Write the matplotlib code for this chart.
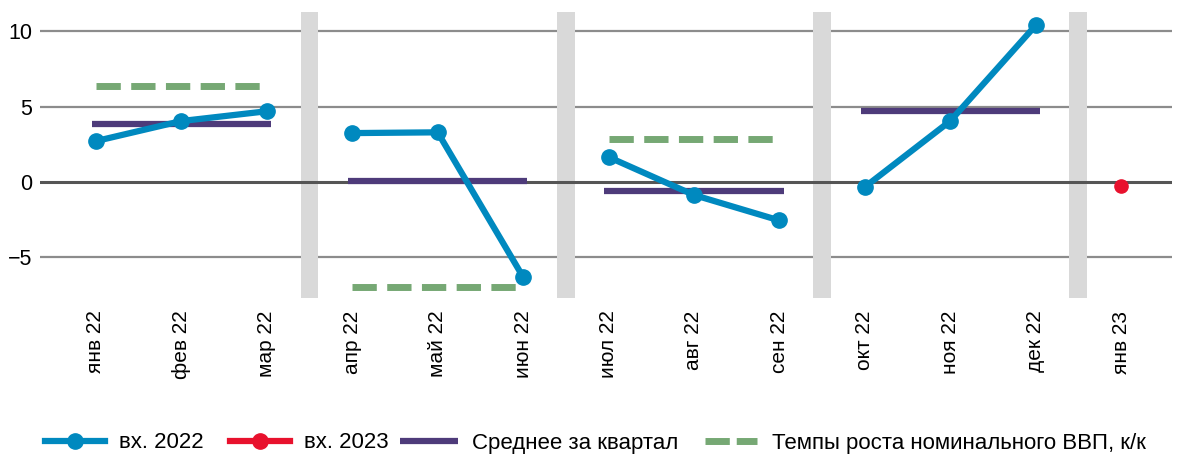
import matplotlib
matplotlib.use('Agg')
import matplotlib.pyplot as plt
from matplotlib.lines import Line2D
import numpy as np

plt.rcParams['font.family'] = ['Liberation Sans', 'DejaVu Sans']

months = ['янв 22', 'фев 22', 'мар 22', 'апр 22', 'май 22', 'июн 22',
          'июл 22', 'авг 22', 'сен 22', 'окт 22', 'ноя 22', 'дек 22', 'янв 23']
vals_2022 = [2.72, 4.05, 4.7, 3.25, 3.3, -6.3, 1.66, -0.86, -2.55, -0.33, 4.05, 10.4]
vals_2023 = [-0.27]
q_avg = [3.83, 0.08, -0.57, 4.7]
gdp_growth = [6.35, -6.95, 2.85]

blue = '#0089BF'
red = '#E8112D'
purple = '#4E3B7A'
green = '#76A874'

fig = plt.figure(figsize=(11.89, 4.55), dpi=100)
ax = fig.add_axes([0.034, 0.345, 0.952, 0.629])

x = np.arange(len(months))

# grid
for v in [-5, 5, 10]:
    ax.axhline(v, color='#8c8c8c', lw=1.6, zorder=1)
ax.axhline(0, color='#555555', lw=2.2, zorder=3)

# quarter separators
for b in [2.5, 5.5, 8.5, 11.5]:
    ax.axvspan(b - 0.105, b + 0.105, color='#d9d9d9', lw=0, zorder=2)

# monthly series, one segment per quarter
for q in range(4):
    xs = x[q * 3:q * 3 + 3]
    ys = vals_2022[q * 3:q * 3 + 3]
    ax.plot(xs, ys, color=blue, lw=4.5, marker='o', ms=11, zorder=5)
ax.plot(x[12:], vals_2023, color=red, lw=4.5, marker='o', ms=9.5, zorder=5)

for q, v in enumerate(q_avg):
    ax.plot([q * 3 - 0.05, q * 3 + 2.05], [v, v], color=purple, lw=4.5,
            solid_capstyle='butt', zorder=4)

for q, v in enumerate(gdp_growth):
    ax.plot([q * 3, q * 3 + 2], [v, v], color=green, lw=5, dashes=(3.5, 1.5),
            dash_capstyle='butt', zorder=4)

ax.set_xlim(-0.65, 12.6)
ax.set_ylim(-7.7, 11.3)
ax.set_yticks([-5, 0, 5, 10])
ax.set_xticks(x)
ax.set_xticklabels(months, rotation=90, fontsize=15)
ax.tick_params(axis='y', labelsize=15.5, length=0, pad=6)
ax.tick_params(axis='x', length=0, pad=9)
for s in ax.spines.values():
    s.set_visible(False)

# legend entries placed one by one
handles = [
    Line2D([], [], color=blue, lw=4.5, marker='o', ms=11),
    Line2D([], [], color=red, lw=4.5, marker='o', ms=11),
    Line2D([], [], color=purple, lw=4.5, solid_capstyle='butt'),
    Line2D([], [], color=green, lw=5, dashes=(3.5, 1.0), dash_capstyle='butt'),
]
labels = ['вх. 2022', 'вх. 2023', 'Среднее за квартал',
          'Темпы роста номинального ВВП, к/к']
starts = [45, 230, 400, 705]
hlens = [2.7, 2.7, 2.6, 2.35]
for h, l, s, hl in zip(handles, labels, starts, hlens):
    fig.legend([h], [l], loc='center left', bbox_to_anchor=(s / 1189, 12 / 455),
               frameon=False, fontsize=16, handlelength=hl, handletextpad=0.65,
               borderpad=0, borderaxespad=0)

fig.savefig('out.png', dpi=100)
